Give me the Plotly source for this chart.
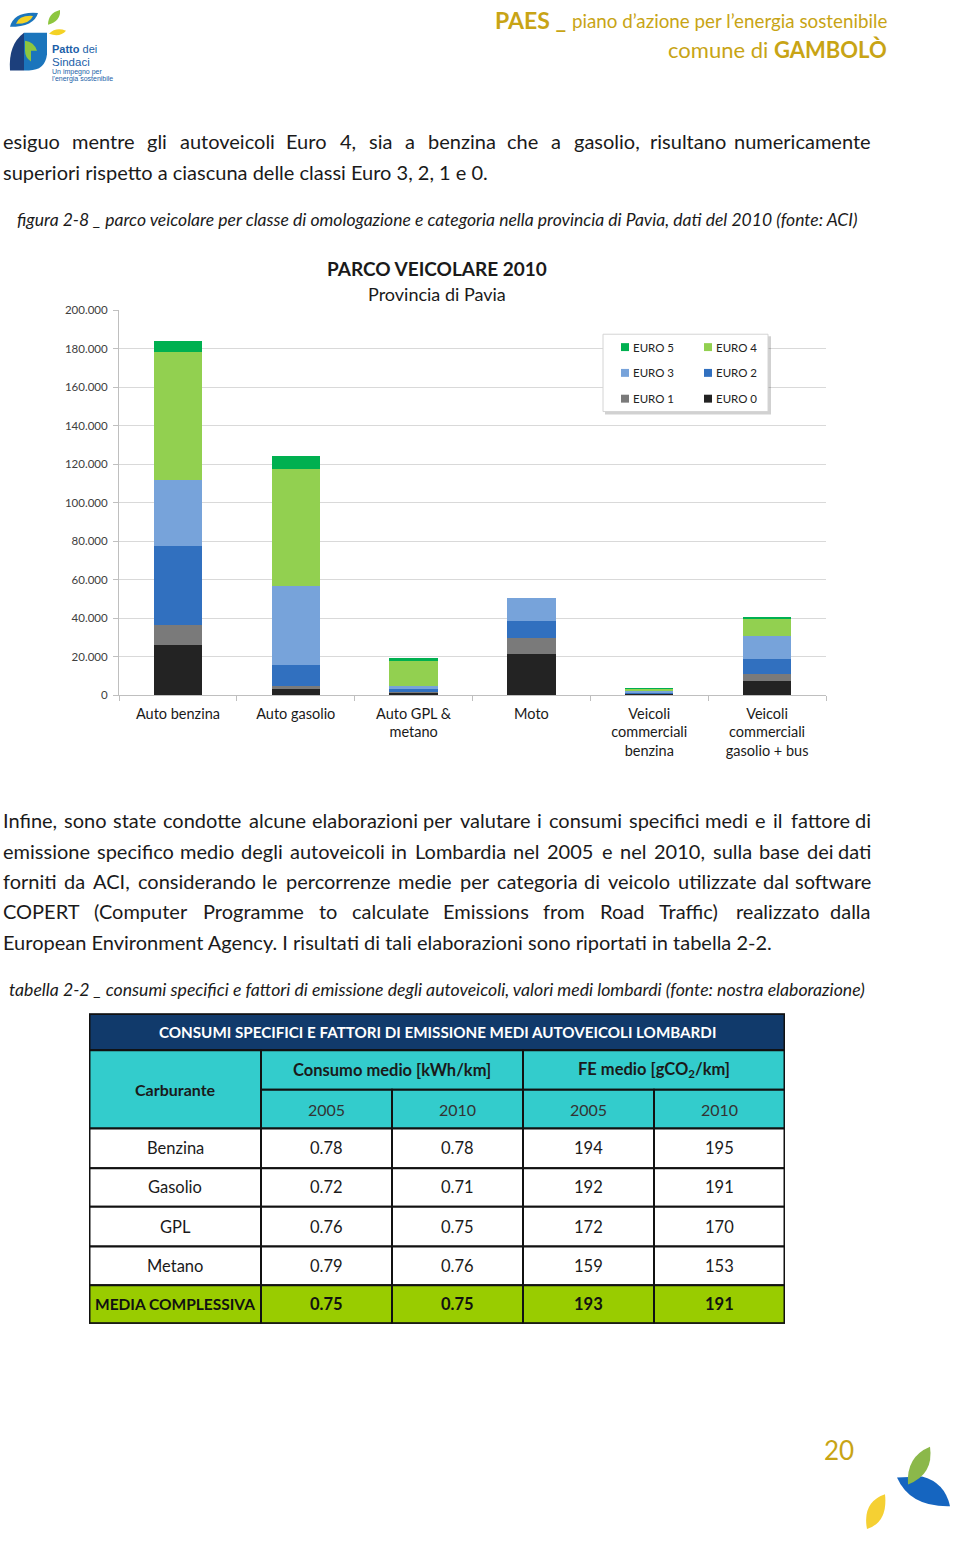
import plotly.graph_objects as go

W, H = 960, 1543
FONT = "Lato"
GOLD = "#C8A415"
TXT = "#1a1a1a"

# ---------------- chart data ----------------
categories = ["Auto benzina", "Auto gasolio", "Auto GPL & metano", "Moto",
              "Veicoli commerciali benzina", "Veicoli commerciali gasolio + bus"]
tick_labels = ["Auto benzina", "Auto gasolio", "Auto GPL &<br>metano", "Moto",
               "Veicoli<br>commerciali<br>benzina", "Veicoli<br>commerciali<br>gasolio + bus"]
series_names = ["EURO 0", "EURO 1", "EURO 2", "EURO 3", "EURO 4", "EURO 5"]
euro0 = [26100, 3300, 1200, 21500, 400, 7200]
euro1 = [10300, 1300, 300, 8400, 300, 3800]
euro2 = [41300, 11200, 1900, 8900, 700, 7900]
euro3 = [34200, 40700, 1200, 11700, 800, 11900]
euro4 = [66600, 61200, 13300, 0, 800, 8900]
euro5 = [5700, 6400, 1300, 0, 200, 700]
series_values = [euro0, euro1, euro2, euro3, euro4, euro5]
series_colors = ["#232323", "#7a7a7a", "#3170BF", "#77A3DA", "#92D050", "#00B050"]
chart_title = "PARCO VEICOLARE 2010"
chart_subtitle = "Provincia di Pavia"

# ---------------- table data ----------------
table_title = "CONSUMI SPECIFICI E FATTORI DI EMISSIONE MEDI AUTOVEICOLI LOMBARDI"
first_header = "Carburante"
group_headers = ["Consumo medio [kWh/km]", "FE medio [gCO<sub>2</sub>/km]"]
year_headers = ["2005", "2010", "2005", "2010"]
fuel_types = ["Benzina", "Gasolio", "GPL", "Metano"]
cons_2005 = [0.78, 0.72, 0.76, 0.79]
cons_2010 = [0.78, 0.71, 0.75, 0.76]
fe_2005 = [194, 192, 172, 159]
fe_2010 = [195, 191, 170, 153]
total_label = "MEDIA COMPLESSIVA"
total_values = [0.75, 0.75, 193, 191]

# ---------------- page text ----------------
para1 = ["esiguo mentre gli autoveicoli Euro 4, sia a benzina che a gasolio, risultano numericamente",
         "superiori rispetto a ciascuna delle classi Euro 3, 2, 1 e 0."]
caption1 = "figura 2-8 _ parco veicolare per classe di omologazione e categoria nella provincia di Pavia, dati del 2010 (fonte: ACI)"
para2 = ["Infine, sono state condotte alcune elaborazioni per valutare i consumi specifici medi e il fattore di",
         "emissione specifico medio degli autoveicoli in Lombardia nel 2005 e nel 2010, sulla base dei dati",
         "forniti da ACI, considerando le percorrenze medie per categoria di veicolo utilizzate dal software",
         "COPERT (Computer Programme to calculate Emissions from Road Traffic) realizzato dalla",
         "European Environment Agency. I risultati di tali elaborazioni sono riportati in tabella 2-2."]
caption2 = "tabella 2-2 _ consumi specifici e fattori di emissione degli autoveicoli, valori medi lombardi (fonte: nostra elaborazione)"
header_left = "PAES _"
header_right = "piano d’azione per l’energia sostenibile"
header_line2 = "comune di <b>GAMBOLÒ</b>"
logo_lines = ["<b>Patto</b> dei", "Sindaci", "Un impegno per", "l'energia sostenibile"]
page_number = "20"


def fx(x):
    return x / W


def fy(y):
    return 1 - y / H


def path(s):
    out, toggle = [], 0
    for t in s.split():
        if t.isalpha():
            out.append(t)
        else:
            v = float(t)
            out.append(f"{fx(v):.5f}" if toggle == 0 else f"{fy(v):.5f}")
            toggle ^= 1
    return " ".join(out)


LATO = {' ': .193, 'a': .476, 'b': .55, 'c': .452, 'd': .55, 'e': .517, 'f': .332, 'g': .49,
        'h': .549, 'i': .236, 'j': .236, 'k': .5, 'l': .236, 'm': .819, 'n': .549, 'o': .547,
        'p': .55, 'q': .55, 'r': .367, 's': .428, 't': .355, 'u': .549, 'v': .508, 'w': .77,
        'x': .49, 'y': .508, 'z': .442, 'A': .677, 'B': .64, 'C': .66, 'D': .74, 'E': .55,
        'F': .52, 'G': .72, 'H': .74, 'I': .28, 'J': .38, 'K': .65, 'L': .49, 'M': .9,
        'N': .74, 'O': .78, 'P': .6, 'Q': .78, 'R': .62, 'S': .53, 'T': .57, 'U': .72,
        'V': .68, 'W': 1.0, 'X': .66, 'Y': .63, 'Z': .6, ',': .2, '.': .2, '(': .3, ')': .3,
        '-': .35}


def tw(s, size):
    return sum(LATO.get(c, .58 if c.isdigit() else .5) for c in s) * size


fig = go.Figure()

# ---------------- bars ----------------
for name, vals, col in zip(series_names, series_values, series_colors):
    fig.add_trace(go.Bar(x=categories, y=vals, name=name, marker=dict(color=col, line=dict(width=0)),
                         xaxis="x", yaxis="y", showlegend=False))

annotations = []
shapes = []


def text(x, y, s, size, color=TXT, xanchor="left", bold=False, italic=False, family=FONT):
    if bold:
        s = f"<b>{s}</b>"
    if italic:
        s = f"<i>{s}</i>"
    annotations.append(dict(x=fx(x), y=fy(y), xref="paper", yref="paper", text=s, showarrow=False,
                            xanchor=xanchor, yanchor="middle", font=dict(family=family, size=size, color=color),
                            borderpad=0))


def justified(line, y, x0, x1, size, italic=False):
    words = line.split(" ")
    widths = [tw(w, size) for w in words]
    gap = (x1 - x0 - sum(widths)) / (len(words) - 1)
    x = x0
    for i, w in enumerate(words):
        if i == len(words) - 1:
            text(x1, y, w, size, xanchor="right", italic=italic)
        else:
            text(x, y, w, size, italic=italic)
        x += widths[i] + gap


BODY = 20
justified(para1[0], 135, 2, 872, BODY)
text(2, 166, para1[1], BODY)
text(16, 214, caption1, 17.55, italic=True)
ys = [820, 851, 881, 912, 943]
for i, (ln, y) in enumerate(zip(para2, ys)):
    if i < len(para2) - 1:
        justified(ln, y, 2, 872, BODY)
    else:
        text(2, y, ln, BODY)
text(8, 991, caption2, 17.65, italic=True)

# ---------------- header ----------------
text(888, 14, header_right, 18.8, color=GOLD, xanchor="right")
text(567, 13, header_left, 23, color=GOLD, xanchor="right", bold=True)
text(888, 43, header_line2, 22, color=GOLD, xanchor="right")
text(839, 1455, page_number, 26, color=GOLD, xanchor="center")

# logo
logo = [
    ("M 10 20 Q 14 4 38 6 Q 34 20 10 20 Z", "#1B75BC"),
    ("M 16 17 Q 19 8 33 9 Q 30 17 16 17 Z", "#F4D225"),
    ("M 48 18 Q 48 6 60 3 Q 61 14 48 18 Z", "#8DC63F"),
    ("M 49 27 Q 56 20 66 24 Q 60 31 49 27 Z", "#F4D225"),
    ("M 24 26 L 24 64 L 10 64 Q 8 38 24 26 Z", "#1C3F7C"),
    ("M 24 26 L 47 26 L 47 48 Q 45 64 29 64 L 24 64 Z", "#1B75BC"),
    ("M 25 34 Q 34 35 37 44 L 31 44 L 31 55 Q 25 51 25 44 Z", "#8DC63F"),
    ("M 897 1483 L 922 1482 Q 945 1488 950 1512 Q 910 1513 897 1483 Z", "#1565C0"),
    ("M 908 1490 Q 906 1462 930 1452 Q 934 1480 908 1490 Z", "#8BB84A"),
    ("M 867 1535 Q 862 1508 885 1500 Q 888 1528 867 1535 Z", "#F5D033"),
]
for p, c in logo:
    shapes.append(dict(type="path", xref="paper", yref="paper", path=path(p), fillcolor=c,
                       line=dict(width=0), layer="above"))
for s, y, sz in zip(logo_lines, [42, 55, 66, 73], [11, 11.5, 7, 7]):
    text(51, y, s, sz, color="#1D5FA8", family="Liberation Sans")

# ---------------- chart title & legend ----------------
text(437, 264, chart_title, 19, xanchor="center", bold=True)
text(437, 289, chart_subtitle, 18, xanchor="center")

shapes.append(dict(type="rect", xref="paper", yref="paper", x0=fx(605), x1=fx(771), y0=fy(411), y1=fy(332),
                   fillcolor="rgba(0,0,0,0.18)", line=dict(width=0), layer="above"))
shapes.append(dict(type="rect", xref="paper", yref="paper", x0=fx(603), x1=fx(768), y0=fy(408), y1=fy(330),
                   fillcolor="white", line=dict(color="#D4D4D4", width=1), layer="above"))
order = list(range(len(series_names)))[::-1]
col_x = [621, 704]
row_y = [343, 369, 395]
for k, idx in enumerate(order):
    cx, cy = col_x[k % 2], row_y[k // 2]
    shapes.append(dict(type="rect", xref="paper", yref="paper", x0=fx(cx), x1=fx(cx + 8),
                       y0=fy(cy + 4), y1=fy(cy - 4), fillcolor=series_colors[idx], line=dict(width=0),
                       layer="above"))
    text(cx + 11, cy, series_names[idx], 11.5, color="#222222")

# ---------------- table (own axes) ----------------
col_w = [172, 131, 131, 131, 131]
xe = [0]
for w_ in col_w:
    xe.append(xe[-1] + w_)
ye = [0, 37, 77, 116, 156, 195, 235, 274, 313]
NAVY, CYAN, LIME, LINE = "#113A6B", "#33CCCC", "#99CC00", "#111111"


def cell(c0, c1, r0, r1, fill, s, size=16, bold=False, color=TXT, lw=2):
    shapes.append(dict(type="rect", xref="x2", yref="y2", x0=xe[c0], x1=xe[c1], y0=ye[r0], y1=ye[r1],
                       fillcolor=fill, line=dict(color=LINE, width=lw), layer="above"))
    annotations.append(dict(x=(xe[c0] + xe[c1]) / 2, y=(ye[r0] + ye[r1]) / 2, xref="x2", yref="y2",
                            text=f"<b>{s}</b>" if bold else s, showarrow=False,
                            font=dict(family=FONT, size=size, color=color)))


cell(0, 5, 0, 1, NAVY, table_title, 15.2, True, "white")
cell(0, 1, 1, 3, CYAN, first_header, 16, True)
cell(1, 3, 1, 2, CYAN, group_headers[0], 16.5, True)
cell(3, 5, 1, 2, CYAN, group_headers[1], 16.5, True)
for j, yh in enumerate(year_headers):
    cell(j + 1, j + 2, 2, 3, CYAN, yh, 16, False, "#333333")
for i, f in enumerate(fuel_types):
    r = 3 + i
    cell(0, 1, r, r + 1, "white", f, 16.5)
    vals = [f"{cons_2005[i]:.2f}", f"{cons_2010[i]:.2f}", f"{fe_2005[i]}", f"{fe_2010[i]}"]
    for j, v in enumerate(vals):
        cell(j + 1, j + 2, r, r + 1, "white", v, 16.5)
cell(0, 1, 7, 8, LIME, total_label, 15.5, True, "#111111")
tv = [f"{total_values[0]:.2f}", f"{total_values[1]:.2f}", f"{total_values[2]}", f"{total_values[3]}"]
for j, v in enumerate(tv):
    cell(j + 1, j + 2, 7, 8, LIME, v, 16.5, True, "#111111")
shapes.append(dict(type="rect", xref="x2", yref="y2", x0=xe[0], x1=xe[-1], y0=ye[0], y1=ye[-1],
                   line=dict(color=LINE, width=3), layer="above"))

fig.update_layout(
    width=W, height=H, margin=dict(l=0, r=0, t=0, b=0),
    paper_bgcolor="white", plot_bgcolor="white",
    barmode="stack", bargap=0.59, separators=",.",
    font=dict(family=FONT, color=TXT),
    showlegend=False,
    xaxis=dict(domain=[fx(119), fx(826)], type="category", tickvals=categories, ticktext=tick_labels,
               showline=True, linecolor="#BFBFBF", linewidth=1, ticks="outside", tickson="boundaries",
               ticklen=5, tickcolor="#BFBFBF", tickfont=dict(size=14.5, color="#1a1a1a"),
               ticklabelstandoff=5, showgrid=False, fixedrange=True),
    yaxis=dict(domain=[fy(694), fy(306)], range=[0, 200000], dtick=20000, tickformat=",.0f",
               showgrid=True, gridcolor="#D9D9D9", gridwidth=1, showline=True, linecolor="#BFBFBF",
               ticks="outside", ticklen=5, tickcolor="#BFBFBF", zeroline=False, fixedrange=True,
               tickfont=dict(size=11.5, color="#404040"), ticklabelstandoff=3),
    xaxis2=dict(domain=[fx(89), fx(785)], range=[0, xe[-1]], visible=False, anchor="y2", fixedrange=True),
    yaxis2=dict(domain=[fy(1328), fy(1015)], range=[ye[-1], 0], visible=False, anchor="x2", fixedrange=True),
    annotations=annotations, shapes=shapes,
)

fig.write_html("out.html", config={"displayModeBar": False},
               post_script="document.body.style.margin='0px';")
